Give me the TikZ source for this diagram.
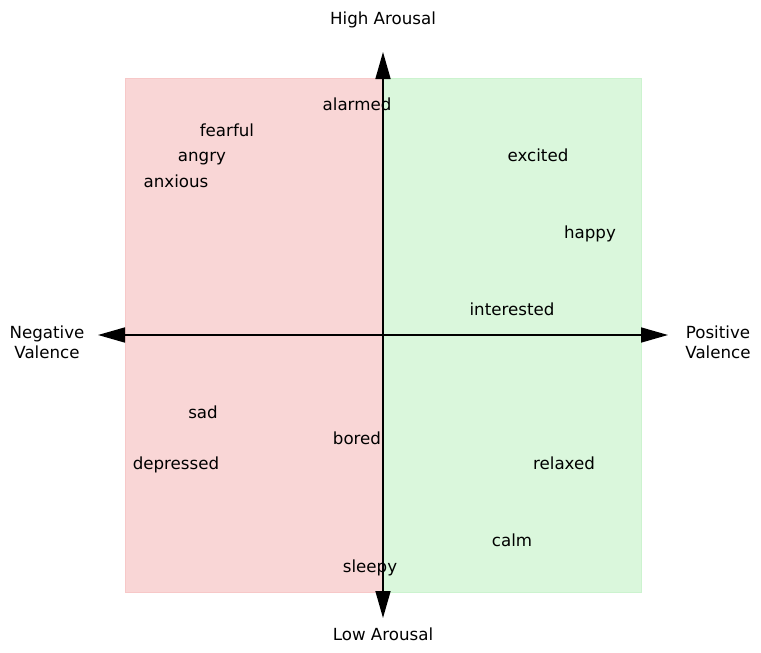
\documentclass[tikz,border=0pt]{standalone}
\usepackage{fontspec}
\setmainfont{DejaVu Sans}
\usetikzlibrary{arrows.meta}
\definecolor{negfill}{RGB}{249,214,214}
\definecolor{negedge}{RGB}{247,200,200}
\definecolor{posfill}{RGB}{218,247,220}
\definecolor{posedge}{RGB}{204,243,207}
\tikzset{
  lbl/.style={font=\fontsize{16.67}{19.5}\selectfont, inner sep=0pt, anchor=center, align=center, text height=12.2pt, text depth=0pt},
  axisline/.style={line width=1.6pt, black, {Triangle[length=27pt,width=15pt]}-{Triangle[length=27pt,width=15pt]}},
}
\begin{document}
\begin{tikzpicture}[x=1pt,y=-1pt]
\useasboundingbox (0,0) rectangle (761,653);
% quadrants
\draw[fill=negfill, draw=negedge, line width=1pt] (125,78) rectangle (383,592);
\draw[fill=posfill, draw=posedge, line width=1pt] (383,78) rectangle (641,592);
% axis end points
\coordinate (W) at (98,335);
\coordinate (E) at (668,335);
\coordinate (N) at (383,52);
\coordinate (S) at (383,618);
\draw[axisline] (W) -- (E);
\draw[axisline] (S) -- (N);
% axis labels
\node[lbl] (high) at (383,18) {High Arousal};
\node[lbl] (low) at (383,634) {Low Arousal};
\node[lbl] (neg) at (47,332) {Negative};
\node[lbl] (negb) at (47,352) {Valence};
\node[lbl] (pos) at (718,332) {Positive};
\node[lbl] (posb) at (718,352) {Valence};
% emotions
\node[lbl] (alarmed) at (357,104) {alarmed};
\node[lbl] (fearful) at (227,130) {fearful};
\node[lbl] (angry) at (202,155) {angry};
\node[lbl] (anxious) at (176,181) {anxious};
\node[lbl] (excited) at (538,155) {excited};
\node[lbl] (happy) at (590,232) {happy};
\node[lbl] (interested) at (512,309) {interested};
\node[lbl] (sad) at (203,412) {sad};
\node[lbl] (bored) at (357,438) {bored};
\node[lbl] (depressed) at (176,463) {depressed};
\node[lbl] (relaxed) at (564,463) {relaxed};
\node[lbl] (calm) at (512,540) {calm};
\node[lbl] (sleepy) at (370,566) {sleepy};
\end{tikzpicture}
\end{document}
